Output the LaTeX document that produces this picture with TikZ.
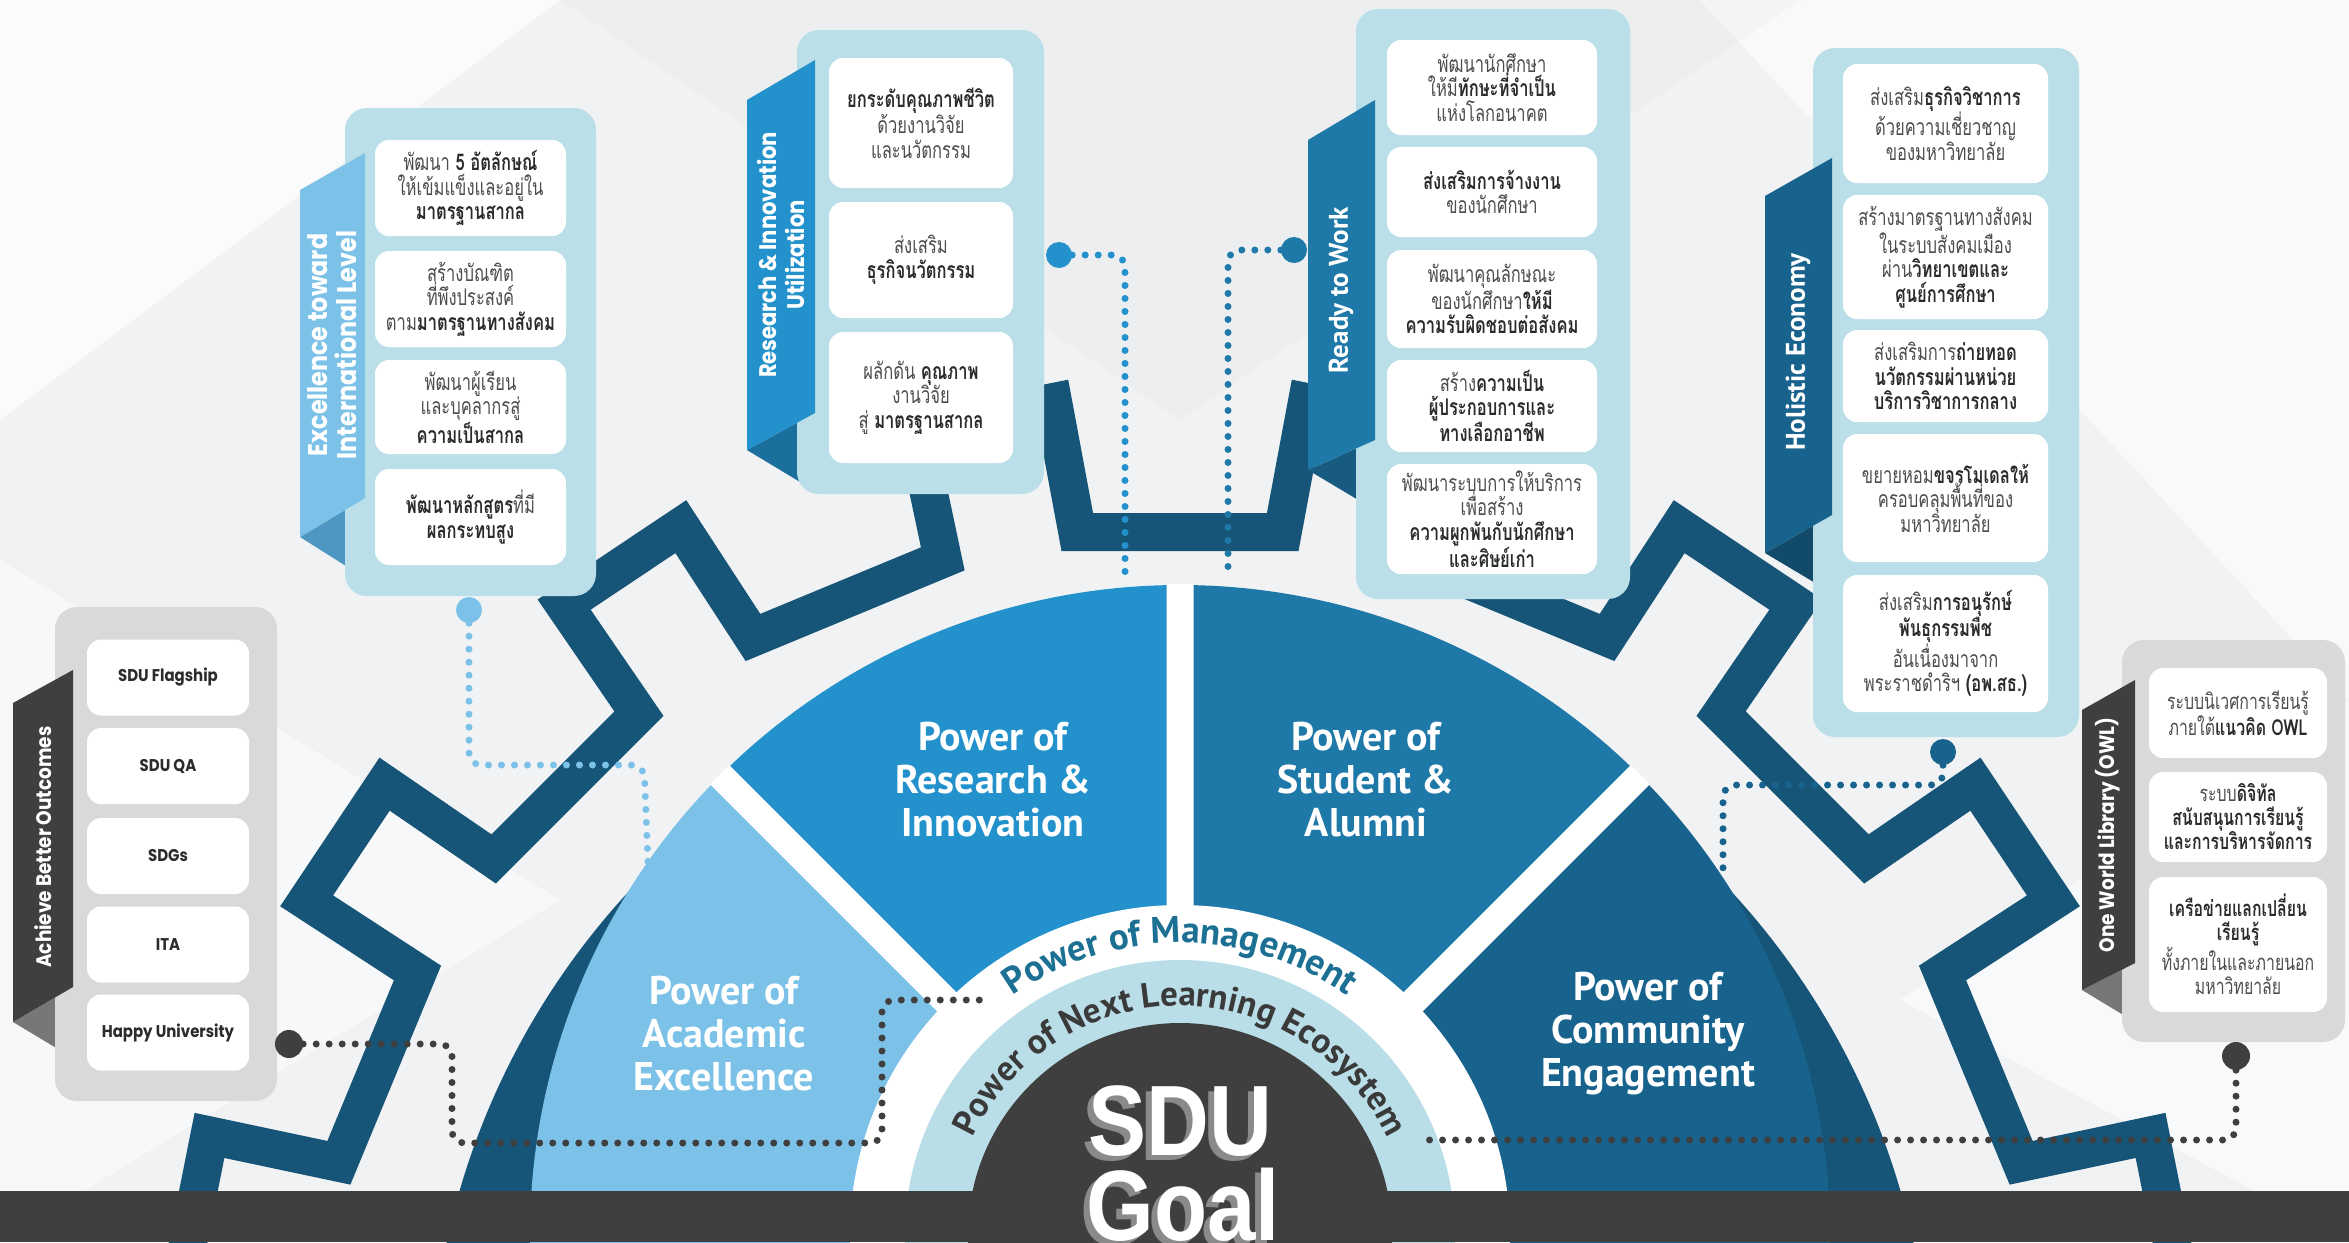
\documentclass[tikz,border=0pt]{standalone}
\usepackage{fontspec}
\setmainfont{Liberation Sans}
\newfontfamily\thai[Script=Thai, FakeStretch=0.72]{Loma}
\newfontfamily\tabfont[FakeStretch=0.88]{Poppins}
\newfontfamily\segfont{PT Sans}
\newfontfamily\goalfont[FakeStretch=0.87]{Liberation Sans}
\usetikzlibrary{decorations.text}
\definecolor{bgc}{HTML}{F0F2F4}
\definecolor{gearc}{HTML}{165577}
\definecolor{segA}{HTML}{7CC2E8}
\definecolor{segB}{HTML}{2392CC}
\definecolor{segC}{HTML}{1F79A8}
\definecolor{segD}{HTML}{18638D}
\definecolor{ringc}{HTML}{B9DEE8}
\definecolor{darkc}{HTML}{3F3F3F}
\definecolor{panelb}{HTML}{BADFE8}
\definecolor{grayp}{HTML}{D9D9D9}
\definecolor{txtr}{HTML}{4D4D4D}
\definecolor{txtb}{HTML}{2B2B2B}
\definecolor{mgmt}{HTML}{1C7093}
\definecolor{eco}{HTML}{3A3A3A}
\definecolor{foldA}{HTML}{4E97C2}
\definecolor{foldB}{HTML}{1B6F9C}
\definecolor{foldC}{HTML}{175B80}
\definecolor{foldD}{HTML}{124A6A}
\definecolor{foldG}{HTML}{777777}
\definecolor{shadowg}{HTML}{8A8A8A}
\newcommand{\hb}[1]{{\bfseries\color{txtb}#1}}
\begin{document}
\begin{tikzpicture}[x=1pt,y=1pt,
  pnl/.style={rounded corners=22, inner sep=0pt},
  tbox/.style={fill=white, rounded corners=14, inner sep=0pt, align=center, text=txtr, font=\thai\fontsize{23}{24.5}\selectfont},
  obox/.style={tbox, font=\thai\fontsize{22}{24}\selectfont},
  abox/.style={fill=white, rounded corners=14, inner sep=0pt, align=center, text=txtb, font=\tabfont\bfseries\fontsize{17}{20}\selectfont, minimum width=162, minimum height=76},
  tabtxt/.style={rotate=90, text=white, align=center, font=\tabfont\bfseries\fontsize{24}{28}\selectfont},
  tabtxtc/.style={rotate=90, text=white, align=center, font=\segfont\bfseries\fontsize{27}{30}\selectfont},
  segtxt/.style={text=white, align=center, font=\segfont\bfseries\fontsize{40}{43}\selectfont},
  dotn/.style={circle, inner sep=0pt, minimum size=26},
  conn/.style={line width=7, line cap=round, dash pattern=on 0pt off 13pt, rounded corners=12}
]
\useasboundingbox (0,0) rectangle (2349,-1242);
\clip (0,0) rectangle (2349,-1242);
% background
\fill[bgc] (0,0) rectangle (2349,-1242);
\fill[white, opacity=0.75] (0,0) -- (560,0) -- (0,-420) -- cycle;
\fill[white, opacity=0.6] (1700,0) -- (2349,0) -- (2349,-700) -- cycle;
\fill[white, opacity=0.5] (0,-560) -- (560,-900) -- (0,-1242) -- cycle;
\fill[gray!25, opacity=0.18] (560,0) -- (1180,-420) -- (1800,0) -- cycle;
\fill[white, opacity=0.55] (2349,-700) -- (1900,-1000) -- (2349,-1242) -- cycle;
% gear
\begin{scope}[shift={(1180,-1400)}]
\fill[gearc] (0,0) circle[radius=750];
\draw[gearc, line width=38, line join=miter] (6.75:874)
  \foreach \k in {0,...,14}{ -- ({22.5*\k+7.25}:1006) -- ({22.5*\k+15.25}:1006) -- ({22.5*\k+15.75}:874) -- ({22.5*\k+29.25}:874) }
  -- (344.75:1006) -- (352.75:1006) -- (353.25:874) -- cycle;
\end{scope}
% segments
\coordinate (C) at (1180,-1235);
\begin{scope}[shift={(1180,-1235)}]
\fill[segA] (0,0) -- (185:650) arc[start angle=185, end angle=135, radius=650] -- cycle;
\fill[segB] (0,0) -- (135:650) arc[start angle=135, end angle=90, radius=650] -- cycle;
\fill[segC] (0,0) -- (90:650) arc[start angle=90, end angle=45, radius=650] -- cycle;
\fill[segD] (0,0) -- (45:650) arc[start angle=45, end angle=-5, radius=650] -- cycle;
\draw[white, line width=27] (0,0) -- (45:651) (0,0) -- (90:651) (0,0) -- (135:651);
\fill[white] (0,0) circle[radius=330];
\fill[ringc] (0,0) circle[radius=275];
\fill[darkc] (0,0) circle[radius=212];
\end{scope}
\node[segtxt] (sA) at (724,-1034) {Power of\\Academic\\Excellence};
\node[segtxt] (sB) at (993,-780) {Power of\\Research \&\\Innovation};
\node[segtxt] (sC) at (1366,-780) {Power of\\Student \&\\Alumni};
\node[segtxt] (sD) at (1648,-1034) {Power of\\Community\\Engagement};
\path[decorate, decoration={text along path, text align=center, text color=mgmt,
  text={|\segfont\bfseries\fontsize{37}{40}\selectfont|Power of Management}}]
  (C) ++(175:292) arc[start angle=175, end angle=5, radius=292];
\path[decorate, decoration={text along path, text align=center, text color=eco,
  text={|\segfont\bfseries\fontsize{35}{37}\selectfont|Power of Next Learning Ecosystem}}]
  (C) ++(178:229) arc[start angle=178, end angle=2, radius=229];
% ---- Excellence panel
\fill[foldA] (300,-537) -- (365,-498) -- (365,-578) -- cycle;
\node[pnl, fill=panelb, minimum width=251, minimum height=488] (pExc) at (470.5,-352) {};
\node[tbox, minimum width=191, minimum height=96] (e1) at (470.5,-188) {พัฒนา \hb{5 อัตลักษณ์}\\ให้เข้มแข็งและอยู่ใน\\\hb{มาตรฐานสากล}};
\node[tbox, minimum width=191, minimum height=96] (e2) at (470.5,-299) {สร้างบัณฑิต\\ที่พึงประสงค์\\ตาม\hb{มาตรฐานทางสังคม}};
\node[tbox, minimum width=191, minimum height=94] (e3) at (470.5,-407) {พัฒนาผู้เรียน\\และบุคลากรสู่\\\hb{ความเป็นสากล}};
\node[tbox, minimum width=191, minimum height=96] (e4) at (470.5,-517) {\hb{พัฒนาหลักสูตร}ที่มี\\\hb{ผลกระทบสูง}};
\fill[segA] (300,-190) -- (365,-153) -- (365,-498) -- (300,-537) -- cycle;
\node[tabtxt, font=\tabfont\bfseries\fontsize{27}{29}\selectfont] (tExc) at (332,-345) {Excellence toward\\International Level};
% ---- Research panel
\fill[foldB] (747,-450) -- (815,-413) -- (815,-491) -- cycle;
\node[pnl, fill=panelb, minimum width=247, minimum height=464] (pRes) at (920.5,-262) {};
\node[tbox, minimum width=184, minimum height=130] (r1) at (921,-123) {\hb{ยกระดับคุณภาพชีวิต}\\ด้วยงานวิจัย\\และนวัตกรรม};
\node[tbox, minimum width=184, minimum height=116] (r2) at (921,-260) {ส่งเสริม\\\hb{ธุรกิจนวัตกรรม}};
\node[tbox, minimum width=184, minimum height=131] (r3) at (921,-397.5) {ผลักดัน \hb{คุณภาพ}\\งานวิจัย\\สู่ \hb{มาตรฐานสากล}};
\fill[segB] (747,-100) -- (815,-60) -- (815,-413) -- (747,-450) -- cycle;
\node[tabtxt] (tRes) at (781,-255) {Research \& Innovation\\Utilization};
% ---- Ready to Work panel
\fill[foldC] (1308,-470) -- (1375,-440) -- (1375,-510) -- cycle;
\node[pnl, fill=panelb, minimum width=274, minimum height=590] (pRdy) at (1493,-304) {};
\node[tbox, minimum width=210, minimum height=95] (w1) at (1492,-87.5) {พัฒนานักศึกษา\\ให้มี\hb{ทักษะที่จำเป็น}\\แห่งโลกอนาคต};
\node[tbox, minimum width=210, minimum height=90] (w2) at (1492,-192) {\hb{ส่งเสริมการจ้างงาน}\\ของนักศึกษา};
\node[tbox, minimum width=210, minimum height=98] (w3) at (1492,-299) {พัฒนาคุณลักษณะ\\ของนักศึกษา\hb{ให้มี}\\\hb{ความรับผิดชอบต่อสังคม}};
\node[tbox, minimum width=210, minimum height=92] (w4) at (1492,-406) {สร้าง\hb{ความเป็น}\\\hb{ผู้ประกอบการและ}\\\hb{ทางเลือกอาชีพ}};
\node[tbox, minimum width=210, minimum height=110] (w5) at (1492,-519) {พัฒนาระบบการให้บริการ\\เพื่อสร้าง\\\hb{ความผูกพันกับนักศึกษา}\\\hb{และศิษย์เก่า}};
\fill[segC] (1308,-140) -- (1375,-100) -- (1375,-440) -- (1308,-470) -- cycle;
\node[tabtxtc] (tRdy) at (1341,-290) {Ready to Work};
% ---- Holistic panel
\fill[foldD] (1765,-553) -- (1832,-515) -- (1832,-593) -- cycle;
\node[pnl, fill=panelb, minimum width=266, minimum height=689] (pHol) at (1946,-392.5) {};
\node[tbox, minimum width=205, minimum height=119] (h1) at (1945.5,-123.5) {ส่งเสริม\hb{ธุรกิจวิชาการ}\\ด้วยความเชี่ยวชาญ\\ของมหาวิทยาลัย};
\node[tbox, minimum width=205, minimum height=124] (h2) at (1945.5,-257) {สร้างมาตรฐานทางสังคม\\ในระบบสังคมเมือง\\ผ่าน\hb{วิทยาเขตและ}\\\hb{ศูนย์การศึกษา}};
\node[tbox, minimum width=205, minimum height=92] (h3) at (1945.5,-376) {ส่งเสริมการ\hb{ถ่ายทอด}\\\hb{นวัตกรรมผ่านหน่วย}\\\hb{บริการวิชาการกลาง}};
\node[tbox, minimum width=205, minimum height=128] (h4) at (1945.5,-498) {ขยายหอม\hb{ขจรโมเดลให้}\\ครอบคลุมพื้นที่ของ\\มหาวิทยาลัย};
\node[tbox, minimum width=205, minimum height=137] (h5) at (1945.5,-643.5) {ส่งเสริม\hb{การอนุรักษ์}\\\hb{พันธุกรรมพืช}\\อันเนื่องมาจาก\\พระราชดำริฯ \hb{(อพ.สธ.)}};
\fill[segD] (1765,-196) -- (1832,-158) -- (1832,-515) -- (1765,-553) -- cycle;
\node[tabtxtc] (tHol) at (1798,-352) {Holistic Economy};
% ---- Achieve panel
\fill[foldG] (13,-1022) -- (73,-987) -- (73,-1058) -- cycle;
\node[pnl, fill=grayp, minimum width=222, minimum height=494] (pAch) at (166,-854) {};
\node[abox] (a1) at (168,-677.5) {SDU Flagship};
\node[abox] (a2) at (168,-766) {SDU QA};
\node[abox] (a3) at (168,-856) {SDGs};
\node[abox] (a4) at (168,-944.5) {ITA};
\node[abox] (a5) at (168,-1032.5) {Happy University};
\fill[darkc] (13,-703) -- (73,-670) -- (73,-987) -- (13,-1022) -- cycle;
\node[tabtxt, font=\tabfont\bfseries\fontsize{21}{24}\selectfont] (tAch) at (43,-847) {Achieve Better Outcomes};
% ---- OWL panel
\fill[foldG] (2082,-990) -- (2135,-963) -- (2135,-1022) -- cycle;
\node[pnl, fill=grayp, minimum width=223, minimum height=402] (pOwl) at (2233.5,-841) {};
\node[obox, minimum width=178, minimum height=90] (o1) at (2238,-713) {ระบบนิเวศการเรียนรู้\\ภายใต้\hb{แนวคิด OWL}};
\node[obox, minimum width=178, minimum height=90] (o2) at (2238,-817) {ระบบ\hb{ดิจิทัล}\\\hb{สนับสนุนการเรียนรู้}\\\hb{และการบริหารจัดการ}};
\node[obox, minimum width=178, minimum height=135] (o3) at (2238,-944.5) {\hb{เครือข่ายแลกเปลี่ยน}\\\hb{เรียนรู้}\\ทั้งภายในและภายนอก\\มหาวิทยาลัย};
\fill[darkc] (2082,-710) -- (2135,-680) -- (2135,-963) -- (2082,-990) -- cycle;
\node[tabtxt, font=\tabfont\bfseries\fontsize{21}{24}\selectfont] (tOwl) at (2108,-835) {One World Library (OWL)};
% ---- connectors
\node[dotn, fill=segA] (dExc) at (469,-610) {};
\coordinate (kExc) at (644,-765);
\coordinate (eExc) at (648,-862);
\draw[conn, draw=segA] (dExc) |- (kExc) -- (eExc);
\node[dotn, fill=segB] (dRes) at (1059,-255) {};
\coordinate (eRes) at (1125,-577);
\draw[conn, draw=segB] (dRes) -| (eRes);
\node[dotn, fill=segC] (dRdy) at (1294,-250) {};
\coordinate (eRdy) at (1228,-577);
\draw[conn, draw=segC] (dRdy) -| (eRdy);
\node[dotn, fill=segD] (dHol) at (1943,-752) {};
\coordinate (kHol) at (1943,-785);
\coordinate (eHol) at (1723,-872);
\draw[conn, draw=segD] (dHol) -- (kHol) -| (eHol);
\node[dotn, fill=darkc, minimum size=28] (dHap) at (289,-1044) {};
\coordinate (kHap1) at (452,-1044);
\coordinate (kHap2) at (882,-1143);
\coordinate (eHap) at (990,-1000);
\draw[conn, draw=darkc] (dHap) -- (kHap1) |- (kHap2) |- (eHap);
\node[dotn, fill=darkc, minimum size=28] (dOwl) at (2236,-1056) {};
\coordinate (eOwl) at (1420,-1140);
\draw[conn, draw=darkc] (dOwl) |- (eOwl);
% bottom bar and goal
\fill[darkc] (0,-1191) rectangle (2349,-1242);
\node[anchor=base, text=shadowg, font=\goalfont\bfseries\fontsize{100}{100}\selectfont] (gS1) at (1174,-1160) {SDU};
\node[anchor=base, text=white, font=\goalfont\bfseries\fontsize{100}{100}\selectfont] (gS) at (1180,-1155) {SDU};
\node[anchor=base, text=shadowg, font=\goalfont\bfseries\fontsize{100}{100}\selectfont] (gG1) at (1177,-1245) {Goal};
\node[anchor=base, text=white, font=\goalfont\bfseries\fontsize{100}{100}\selectfont] (gG) at (1183,-1240) {Goal};
\end{tikzpicture}
\end{document}
